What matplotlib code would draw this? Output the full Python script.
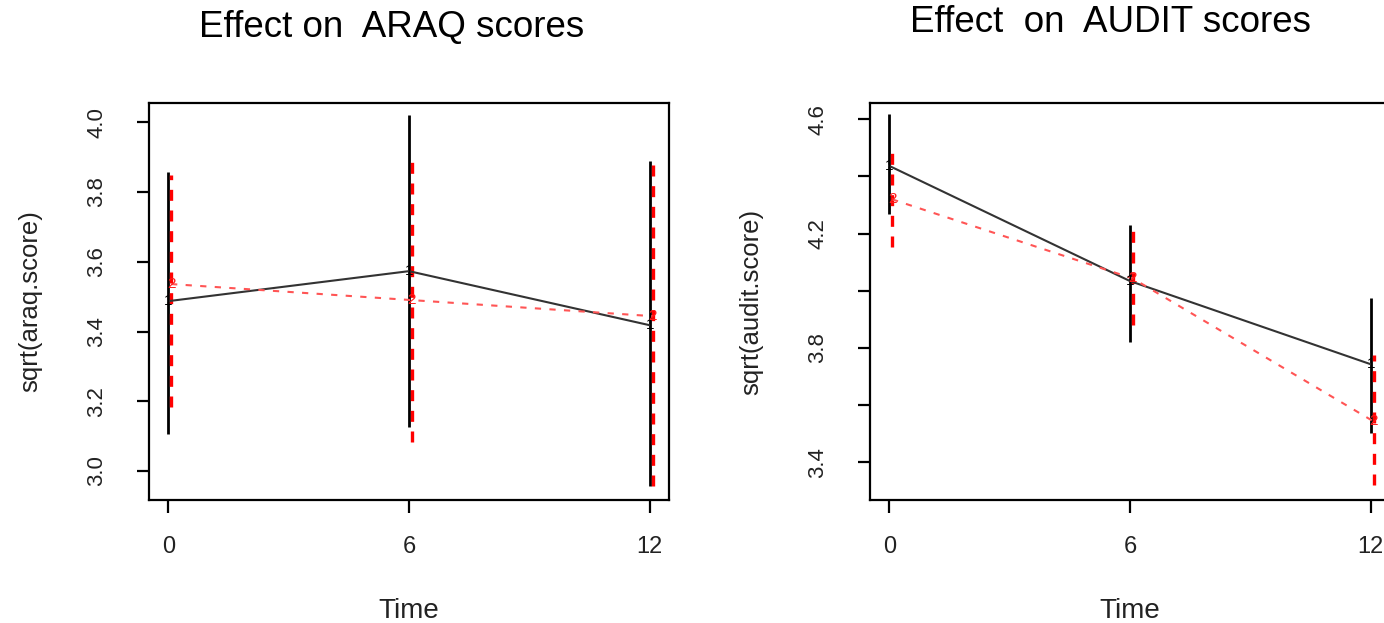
import matplotlib
matplotlib.use('Agg')
import matplotlib.pyplot as plt
import numpy as np

plt.rcParams['font.family'] = ['Liberation Sans', 'DejaVu Sans']

# time points (months)
times = [0, 6, 12]

# ARAQ, group 1 (solid black) and group 2 (dashed red)
araq_g1_mean = [3.487, 3.573, 3.418]
araq_g1_lo = [3.106, 3.126, 2.957]
araq_g1_hi = [3.857, 4.020, 3.888]
araq_g2_mean = [3.536, 3.490, 3.444]
araq_g2_lo = [3.183, 3.083, 2.957]
araq_g2_hi = [3.848, 3.894, 3.888]

# AUDIT
audit_g1_mean = [4.437, 4.034, 3.743]
audit_g1_lo = [4.268, 3.820, 3.501]
audit_g1_hi = [4.617, 4.229, 3.974]
audit_g2_mean = [4.320, 4.043, 3.543]
audit_g2_lo = [4.152, 3.879, 3.320]
audit_g2_hi = [4.490, 4.208, 3.774]

araq_ticks = [3.0, 3.2, 3.4, 3.6, 3.8, 4.0]
audit_ticks = [3.4, 3.6, 3.8, 4.0, 4.2, 4.4, 4.6]
audit_labeled = [3.4, 3.8, 4.2, 4.6]


def panel(ax, m1, lo1, hi1, m2, lo2, hi2, ylim, yticks, ylabels, ylabel):
    t = np.array(times, dtype=float)
    off = 0.07
    # error bars
    ax.vlines(t, lo1, hi1, colors='black', lw=2.0, zorder=2)
    ax.vlines(t + off, lo2, hi2, colors='red', lw=2.4,
              linestyles=(0, (3.3, 2.9)), zorder=3)
    # mean profiles
    ax.plot(t, m1, color='#333333', lw=1.5, zorder=4)
    ax.plot(t + off, m2, color='#ff5555', lw=1.5, ls=(0, (3, 4)), zorder=4)
    for x, y in zip(t, m1):
        ax.text(x, y, '1', color='black', fontsize=11, ha='center', va='center', zorder=5)
    for x, y in zip(t + off, m2):
        ax.text(x, y, '2', color='#ff1a1a', fontsize=11, ha='center', va='center', zorder=5)

    ax.set_xlim(-0.48, 12.48)
    ax.set_ylim(*ylim)
    ax.set_xticks(times)
    ax.set_xticklabels([str(v) for v in times])
    ax.set_yticks(yticks)
    ax.set_yticklabels(ylabels)
    for lab in ax.get_yticklabels():
        lab.set_rotation(90)
        lab.set_va('center')
    for s in ax.spines.values():
        s.set_linewidth(1.6)
    ax.tick_params(axis='both', direction='out', length=9, width=1.6,
                   labelcolor='#222222')
    ax.tick_params(axis='x', pad=17, labelsize=17)
    ax.tick_params(axis='y', pad=21, labelsize=16)
    ax.set_xlabel('Time', fontsize=20, color='#222222')
    ax.xaxis.set_label_coords(0.5, -0.247)
    ax.set_ylabel(ylabel, fontsize=18.5, color='#222222')
    ax.yaxis.set_label_coords(-0.205, 0.5)


fig = plt.figure(figsize=(13.84, 6.23), dpi=100)
W, H = 1384, 623
ax1 = fig.add_axes([149 / W, 123 / H, 520 / W, 397 / H])
ax2 = fig.add_axes([870 / W, 123 / H, 520 / W, 397 / H])

panel(ax1, araq_g1_mean, araq_g1_lo, araq_g1_hi,
      araq_g2_mean, araq_g2_lo, araq_g2_hi,
      (2.917, 4.055), araq_ticks, [f'{v:.1f}' for v in araq_ticks],
      'sqrt(araq.score)')
panel(ax2, audit_g1_mean, audit_g1_lo, audit_g1_hi,
      audit_g2_mean, audit_g2_lo, audit_g2_hi,
      (3.268, 4.657), audit_ticks,
      [f'{v:.1f}' if v in audit_labeled else '' for v in audit_ticks],
      'sqrt(audit.score)')

fig.text(391.5 / W, 1 - 27 / H, 'Effect on  ARAQ scores', fontsize=26.5,
         ha='center', va='center')
fig.text(1110 / W, 1 - 22 / H, 'Effect  on  AUDIT scores', fontsize=26.5,
         ha='center', va='center')

fig.savefig('out.png', dpi=100)
